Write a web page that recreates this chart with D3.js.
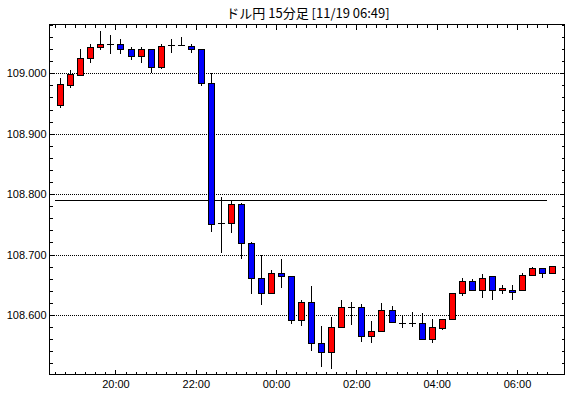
<!DOCTYPE html>
<html><head><meta charset="utf-8">
<script src="https://cdn.jsdelivr.net/npm/d3@7"></script>
<style>body{margin:0;background:#fff}svg{display:block}</style>
</head><body>
<svg id="c" width="570" height="398"></svg>
<script>
const title = "ドル円 15分足 [11/19 06:49]";
const times = ["18:30","18:45","19:00","19:15","19:30","19:45","20:00","20:15","20:30","20:45",
  "21:00","21:15","21:30","21:45","22:00","22:15","22:30","22:45","23:00","23:15",
  "23:30","23:45","00:00","00:15","00:30","00:45","01:00","01:15","01:30","01:45",
  "02:00","02:15","02:30","02:45","03:00","03:15","03:30","03:45","04:00","04:15",
  "04:30","04:45","05:00","05:15","05:30","05:45","06:00","06:15","06:30","06:45"];
const opens = [108.948,108.981,108.998,109.025,109.043,109.048,109.049,109.040,109.029,109.041,
  109.011,109.047,109.047,109.046,109.040,108.984,108.753,108.753,108.783,108.719,
  108.662,108.637,108.669,108.664,108.592,108.621,108.553,108.538,108.580,108.614,
  108.614,108.566,108.573,108.609,108.5875,108.586,108.586,108.561,108.578,108.593,
  108.636,108.657,108.642,108.664,108.641,108.642,108.641,108.667,108.677,108.669];
const highs = [108.992,109.006,109.040,109.049,109.070,109.063,109.057,109.043,109.043,109.041,
  109.049,109.057,109.060,109.049,109.040,109.000,108.795,108.791,108.785,108.720,
  108.700,108.674,108.692,108.664,108.625,108.648,108.582,108.596,108.624,108.622,
  108.618,108.590,108.620,108.615,108.599,108.605,108.603,108.594,108.594,108.637,
  108.662,108.659,108.668,108.664,108.650,108.650,108.669,108.679,108.677,108.681];
const lows = [108.945,108.977,108.998,109.019,109.041,109.033,109.033,109.023,109.019,109.003,
  109.009,109.035,109.047,109.036,108.981,108.739,108.705,108.737,108.695,108.636,
  108.619,108.637,108.647,108.587,108.583,108.542,108.516,108.512,108.580,108.585,
  108.557,108.556,108.573,108.588,108.580,108.581,108.561,108.556,108.576,108.593,
  108.633,108.642,108.630,108.627,108.637,108.627,108.641,108.667,108.663,108.669];
const closes = [108.982,108.999,109.025,109.043,109.049,109.048,109.040,109.029,109.041,109.011,
  109.046,109.047,109.047,109.040,108.984,108.751,108.752,108.783,108.719,108.662,
  108.637,108.669,108.664,108.592,108.621,108.553,108.538,108.580,108.614,108.614,
  108.566,108.573,108.609,108.588,108.5867,108.586,108.561,108.580,108.593,108.636,
  108.657,108.642,108.662,108.641,108.644,108.638,108.667,108.677,108.669,108.681];
const yTickLabels = ["108.600","108.700","108.800","108.900","109.000"];
const xTickLabels = ["20:00","22:00","00:00","02:00","04:00","06:00"];
const refLevel = 108.790;
const refStart = "18:30", refEnd = "06:45";
const firstTick = "18:30", lastTick = "06:45";
const domainStart = "18:21:24", domainEnd = "07:11:00";

function toDate(s) {
  const p = s.split(":").map(Number);
  const d = new Date(2019, 10, 18, p[0], p[1], p[2] || 0);
  if (p[0] < 12) d.setDate(19);
  return d;
}

const L = 49.5, R = 564.5, T = 24.5, B = 374.5;
const svg = d3.select("#c");
svg.append("rect").attr("width",570).attr("height",398).attr("fill","#fff");

const x = d3.scaleTime().domain([toDate(domainStart), toDate(domainEnd)]).range([L, R]);
const y = d3.scaleLinear().domain([108.5015, 109.0808]).range([B, T]);

// title
svg.append("text").attr("x", 308).attr("y", 18).attr("text-anchor","middle")
  .attr("font-family","'Noto Sans CJK JP', sans-serif").attr("font-size", 13).attr("fill","#000")
  .text(title);

// grid
const majY = yTickLabels.map(Number);
svg.append("g").selectAll("line").data(majY).join("line")
  .attr("x1", L).attr("x2", R)
  .attr("y1", d => Math.round(y(d)) + 0.5).attr("y2", d => Math.round(y(d)) + 0.5)
  .attr("stroke","#000").attr("stroke-dasharray","1,1").attr("shape-rendering","crispEdges");

// axes
const minY = d3.range(108.52, 109.081, 0.02).map(v => +v.toFixed(2)).filter(v => !majY.some(m => Math.abs(m - v) < 1e-6));
const fontF = "'Liberation Sans', Arial, sans-serif";
function styleAxis(g) {
  g.select(".domain").remove();
  g.selectAll("line").attr("stroke","#000").attr("shape-rendering","crispEdges");
  g.selectAll("text").attr("font-family", fontF).attr("font-size", 11).attr("fill","#000");
}
svg.append("g").attr("transform",`translate(${L},0)`)
  .call(d3.axisLeft(y).tickValues(majY).tickSizeInner(-5).tickSizeOuter(0).tickPadding(3)
    .tickFormat((d,i) => yTickLabels[i])).call(styleAxis);
svg.append("g").attr("transform",`translate(${L},0)`)
  .call(d3.axisLeft(y).tickValues(minY).tickSizeInner(-3).tickSizeOuter(0).tickFormat("")).call(styleAxis);
svg.append("g").attr("transform",`translate(${R},0)`)
  .call(d3.axisRight(y).tickValues(majY).tickSizeInner(-5).tickSizeOuter(0).tickFormat("")).call(styleAxis);
svg.append("g").attr("transform",`translate(${R},0)`)
  .call(d3.axisRight(y).tickValues(minY).tickSizeInner(-3).tickSizeOuter(0).tickFormat("")).call(styleAxis);

const majX = xTickLabels.map(toDate);
const minX = d3.timeMinute.every(15).range(toDate(firstTick), new Date(+toDate(lastTick) + 1000))
  .filter(d => !majX.some(m => +m === +d));
svg.append("g").attr("transform",`translate(0,${B})`)
  .call(d3.axisBottom(x).tickValues(majX).tickSizeInner(-5).tickSizeOuter(0).tickPadding(6)
    .tickFormat((d,i) => xTickLabels[i])).call(styleAxis);
svg.append("g").attr("transform",`translate(0,${B})`)
  .call(d3.axisBottom(x).tickValues(minX).tickSizeInner(-3).tickSizeOuter(0).tickFormat("")).call(styleAxis);
svg.append("g").attr("transform",`translate(0,${T})`)
  .call(d3.axisTop(x).tickValues(majX).tickSizeInner(-5).tickSizeOuter(0).tickFormat("")).call(styleAxis);
svg.append("g").attr("transform",`translate(0,${T})`)
  .call(d3.axisTop(x).tickValues(minX).tickSizeInner(-3).tickSizeOuter(0).tickFormat("")).call(styleAxis);

// reference line
svg.append("line")
  .attr("x1", x(toDate(refStart))).attr("x2", x(toDate(refEnd)))
  .attr("y1", Math.round(y(refLevel)) + 0.5).attr("y2", Math.round(y(refLevel)) + 0.5)
  .attr("stroke","#000").attr("shape-rendering","crispEdges");

// candles
const data = times.map((t,i) => ({t: toDate(t), o: opens[i], h: highs[i], l: lows[i], c: closes[i]}));
const cx = d => Math.round(x(new Date(+d.t + 7.5*60000))) + 0.5;
const g = svg.append("g").attr("shape-rendering","crispEdges");
g.selectAll("line.w").data(data).join("line").attr("class","w")
  .attr("x1", cx).attr("x2", cx)
  .attr("y1", d => Math.round(y(d.h))).attr("y2", d => Math.round(y(d.l)) + 1)
  .attr("stroke","#000");
data.forEach(d => {
  const top = Math.round(y(Math.max(d.o, d.c))), bot = Math.round(y(Math.min(d.o, d.c)));
  const c = cx(d);
  if (bot - top < 1) {
    g.append("line").attr("x1", c - 3.5).attr("x2", c + 3.5)
      .attr("y1", top + 0.5).attr("y2", top + 0.5).attr("stroke","#000");
  } else {
    g.append("rect").attr("x", c - 3).attr("width", 6)
      .attr("y", top + 0.5).attr("height", bot - top)
      .attr("fill", d.c >= d.o ? "#ff0000" : "#0000ff").attr("stroke","#000");
  }
});

// frame
svg.append("rect").attr("x", L).attr("y", T).attr("width", R - L).attr("height", B - T)
  .attr("fill","none").attr("stroke","#000").attr("shape-rendering","crispEdges");
</script>
</body></html>
